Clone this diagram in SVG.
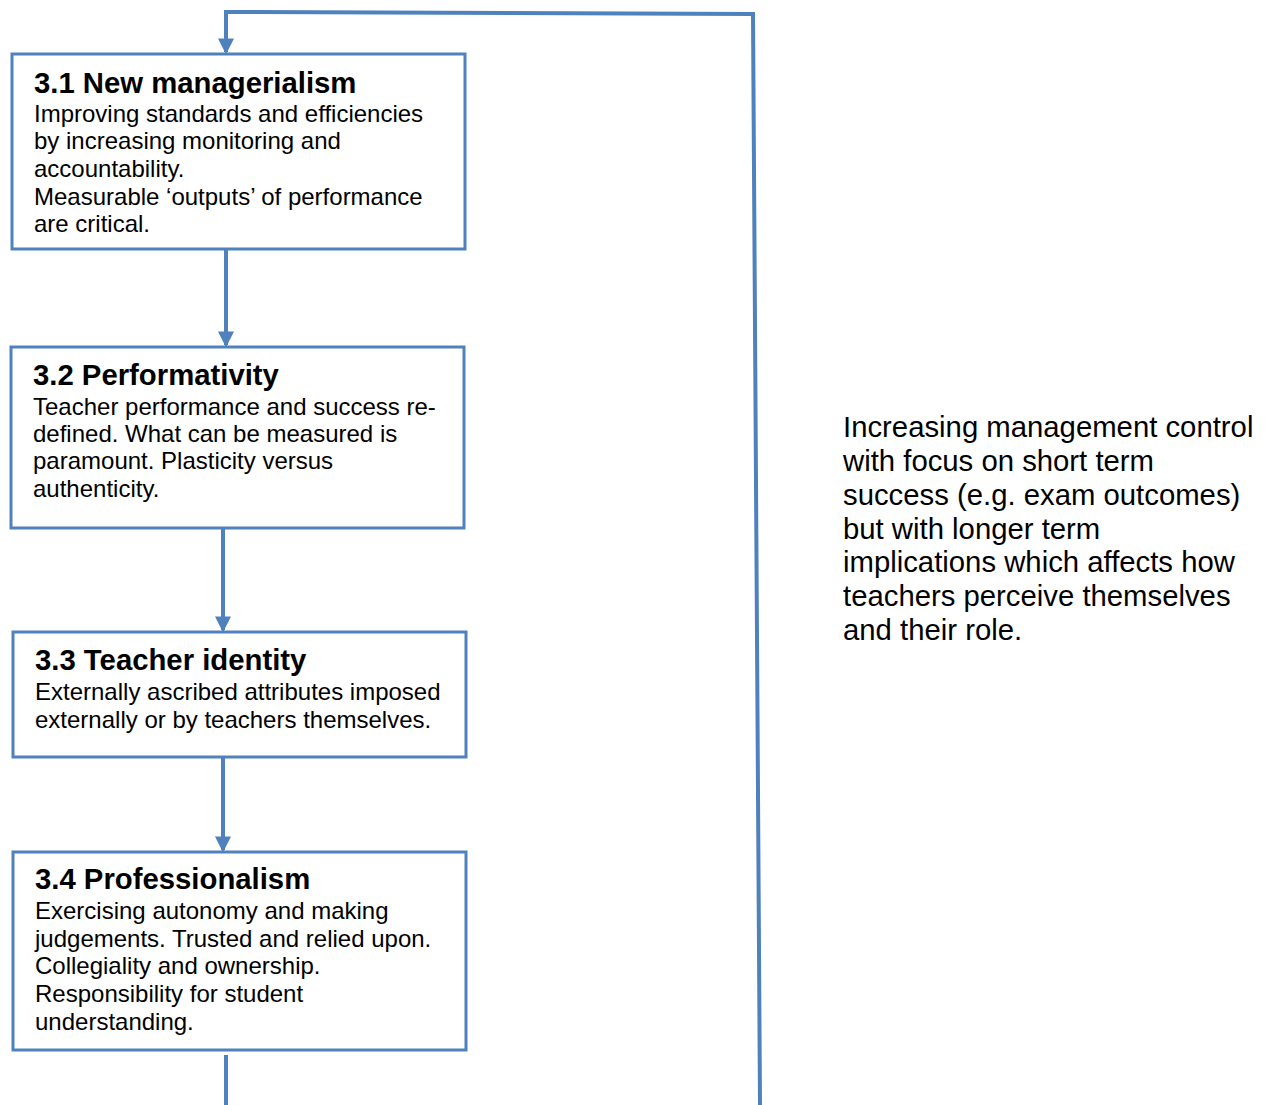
<svg xmlns="http://www.w3.org/2000/svg" width="1273" height="1105" viewBox="0 0 1273 1105">
<style>
.box{fill:#fff;stroke:#4F81BD;stroke-width:3}
.ln{fill:none;stroke:#4F81BD;stroke-width:4}
.t{font-family:"Liberation Sans",Arial,sans-serif;font-size:29.3px;font-weight:bold;fill:#000}
.b{font-family:"Liberation Sans",Arial,sans-serif;font-size:24px;fill:#000}
.r{font-family:"Liberation Sans",Arial,sans-serif;font-size:29.3px;fill:#000}
</style>
<defs>
<marker id="ah" markerWidth="4" markerHeight="4" refX="3.4" refY="2" orient="auto" markerUnits="strokeWidth">
<path d="M0,0 L4,2 L0,4 z" fill="#4F81BD"/>
</marker>
</defs>
<rect width="1273" height="1105" fill="#fff"/>
<g id="connectors">
<path class="ln" d="M760,1105 L753,14 L226,12 L226,52" marker-end="url(#ah)"/>
<path class="ln" d="M226,250 L226,345" marker-end="url(#ah)"/>
<path class="ln" d="M223,529 L223,630" marker-end="url(#ah)"/>
<path class="ln" d="M223,758 L223,850" marker-end="url(#ah)"/>
<path class="ln" d="M226,1055 L226,1105"/>
</g>
<g id="n1">
<rect class="box" x="12" y="54" width="453" height="195"/>
<text class="t" x="34" y="93">3.1 New managerialism</text>
<text class="b" x="34" y="122">Improving standards and efficiencies</text>
<text class="b" x="34" y="149">by increasing monitoring and</text>
<text class="b" x="34" y="177">accountability.</text>
<text class="b" x="34" y="205">Measurable ‘outputs’ of performance</text>
<text class="b" x="34" y="232">are critical.</text>
</g>
<g id="n2">
<rect class="box" x="11" y="347" width="453" height="181"/>
<text class="t" x="33" y="385">3.2 Performativity</text>
<text class="b" x="33" y="415">Teacher performance and success re-</text>
<text class="b" x="33" y="442">defined. What can be measured is</text>
<text class="b" x="33" y="469">paramount. Plasticity versus</text>
<text class="b" x="33" y="497">authenticity.</text>
</g>
<g id="n3">
<rect class="box" x="13" y="632" width="453" height="125"/>
<text class="t" x="35" y="670">3.3 Teacher identity</text>
<text class="b" x="35" y="700">Externally ascribed attributes imposed</text>
<text class="b" x="35" y="728">externally or by teachers themselves.</text>
</g>
<g id="n4">
<rect class="box" x="13" y="852" width="453" height="198"/>
<text class="t" x="35" y="889">3.4 Professionalism</text>
<text class="b" x="35" y="919">Exercising autonomy and making</text>
<text class="b" x="35" y="947">judgements. Trusted and relied upon.</text>
<text class="b" x="35" y="974">Collegiality and ownership.</text>
<text class="b" x="35" y="1002">Responsibility for student</text>
<text class="b" x="35" y="1030">understanding.</text>
</g>
<g id="note">
<text class="r" x="843" y="437">Increasing management control</text>
<text class="r" x="843" y="471">with focus on short term</text>
<text class="r" x="843" y="505">success (e.g. exam outcomes)</text>
<text class="r" x="843" y="539">but with longer term</text>
<text class="r" x="843" y="572">implications which affects how</text>
<text class="r" x="843" y="606">teachers perceive themselves</text>
<text class="r" x="843" y="640">and their role.</text>
</g>
</svg>
